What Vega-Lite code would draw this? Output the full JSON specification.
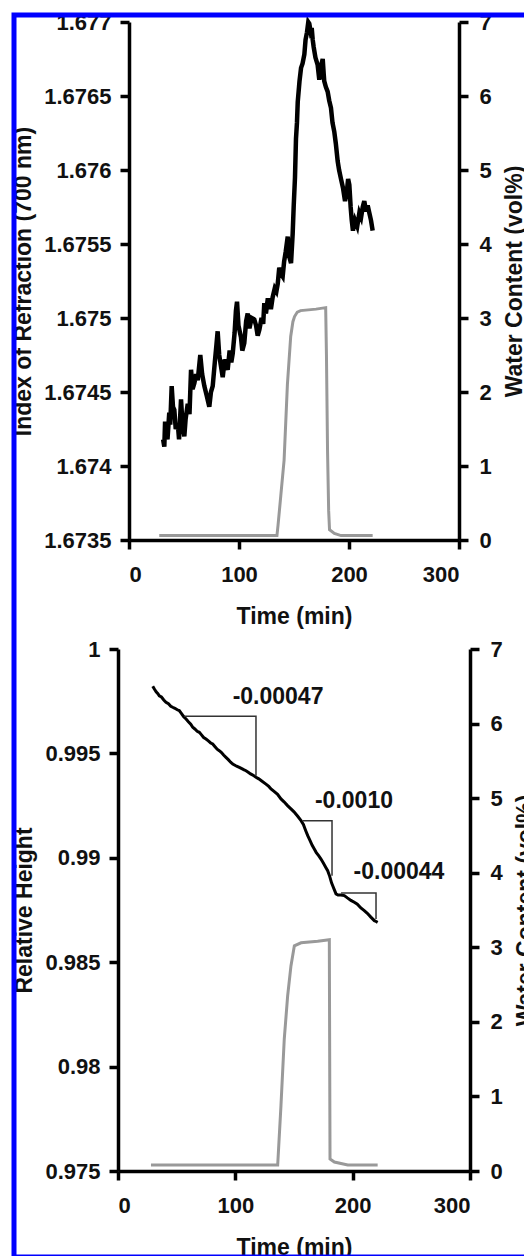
{
  "$schema": "https://vega.github.io/schema/vega-lite/v6.json",
  "background": "white",
  "padding": {"left": 11, "top": 11, "right": 0, "bottom": 0},
  "columns": 1,
  "align": "none",
  "spacing": -1247,
  "config": {
    "font": "Liberation Sans",
    "view": {"stroke": null},
    "axis": {
      "labelFont": "Liberation Sans", "labelFontWeight": "bold", "labelFontSize": 22, "labelColor": "#111",
      "titleFont": "Liberation Sans", "titleFontWeight": "bold", "titleFontSize": 23, "titleColor": "#111",
      "domainColor": "#000", "domainWidth": 3.5, "tickColor": "#000", "tickWidth": 3.5, "tickSize": 9,
      "grid": false, "labelPadding": 9, "titlePadding": 8
    },
    "axisX": {"labelPadding": 15, "titlePadding": 20}
  },
  "datasets": {
    "ri": [
      {"t":31.0,"n":1.67418},{"t":32.1,"n":1.67413},{"t":32.8,"n":1.67430},{"t":33.6,"n":1.67424},{"t":35.0,"n":1.67418},
      {"t":36.6,"n":1.67436},{"t":37.5,"n":1.67428},{"t":38.8,"n":1.67454},{"t":40.0,"n":1.67440},{"t":41.2,"n":1.67438},
      {"t":42.5,"n":1.67425},{"t":44.3,"n":1.67429},{"t":45.5,"n":1.67418},{"t":47.3,"n":1.67445},{"t":48.5,"n":1.67430},
      {"t":50.3,"n":1.67420},{"t":51.5,"n":1.67432},{"t":53.4,"n":1.67442},{"t":55.0,"n":1.67435},{"t":56.4,"n":1.67465},
      {"t":57.8,"n":1.67452},{"t":59.4,"n":1.67456},{"t":61.0,"n":1.67462},{"t":62.5,"n":1.67458},{"t":64.8,"n":1.67475},
      {"t":66.5,"n":1.67462},{"t":68.5,"n":1.67454},{"t":70.5,"n":1.67448},{"t":73.0,"n":1.67440},{"t":74.5,"n":1.67450},
      {"t":76.1,"n":1.67454},{"t":78.0,"n":1.67470},{"t":79.5,"n":1.67482},{"t":80.6,"n":1.67491},{"t":82.0,"n":1.67475},
      {"t":83.5,"n":1.67468},{"t":85.2,"n":1.67460},{"t":87.0,"n":1.67472},{"t":89.7,"n":1.67465},{"t":91.5,"n":1.67478},
      {"t":93.0,"n":1.67470},{"t":94.3,"n":1.67476},{"t":96.0,"n":1.67490},{"t":97.2,"n":1.67505},{"t":98.2,"n":1.67511},
      {"t":99.5,"n":1.67495},{"t":101.8,"n":1.67487},{"t":103.0,"n":1.67478},{"t":104.8,"n":1.67483},{"t":106.5,"n":1.67498},
      {"t":107.9,"n":1.67503},{"t":109.5,"n":1.67493},{"t":111.5,"n":1.67500},{"t":113.9,"n":1.67499},{"t":115.5,"n":1.67495},
      {"t":117.0,"n":1.67488},{"t":118.5,"n":1.67492},{"t":120.5,"n":1.67500},{"t":122.0,"n":1.67496},{"t":123.0,"n":1.67510},
      {"t":124.5,"n":1.67503},{"t":126.0,"n":1.67512},{"t":127.5,"n":1.67512},{"t":129.0,"n":1.67506},{"t":130.6,"n":1.67514},
      {"t":132.5,"n":1.67520},{"t":134.0,"n":1.67518},{"t":135.2,"n":1.67523},{"t":136.6,"n":1.67534},{"t":138.0,"n":1.67530},
      {"t":139.7,"n":1.67528},{"t":141.0,"n":1.67538},{"t":142.5,"n":1.67545},{"t":144.3,"n":1.67555},{"t":145.5,"n":1.67542},
      {"t":147.3,"n":1.67537},{"t":148.8,"n":1.67557},{"t":149.7,"n":1.67575},{"t":150.9,"n":1.67595},{"t":151.8,"n":1.67621},
      {"t":152.7,"n":1.67632},{"t":153.4,"n":1.67646},{"t":155.0,"n":1.67660},{"t":156.4,"n":1.67669},{"t":157.8,"n":1.67672},
      {"t":159.4,"n":1.67678},{"t":160.5,"n":1.67688},{"t":161.8,"n":1.67693},{"t":163.0,"n":1.67700},{"t":163.9,"n":1.67699},
      {"t":165.0,"n":1.67694},{"t":166.1,"n":1.67696},{"t":167.0,"n":1.67688},{"t":167.9,"n":1.67683},{"t":169.5,"n":1.67676},
      {"t":171.5,"n":1.67671},{"t":173.0,"n":1.67661},{"t":174.5,"n":1.67670},{"t":176.1,"n":1.67675},{"t":177.0,"n":1.67665},
      {"t":177.5,"n":1.67660},{"t":179.0,"n":1.67656},{"t":180.6,"n":1.67653},{"t":182.0,"n":1.67647},{"t":183.6,"n":1.67642},
      {"t":185.0,"n":1.67632},{"t":186.6,"n":1.67626},{"t":188.0,"n":1.67618},{"t":189.7,"n":1.67606},{"t":191.0,"n":1.67600},
      {"t":192.7,"n":1.67594},{"t":194.5,"n":1.67588},{"t":196.4,"n":1.67579},{"t":198.0,"n":1.67585},{"t":199.2,"n":1.67594},
      {"t":200.3,"n":1.67590},{"t":201.5,"n":1.67575},{"t":202.5,"n":1.67566},{"t":203.6,"n":1.67559},{"t":205.5,"n":1.67566},
      {"t":207.5,"n":1.67562},{"t":209.4,"n":1.67571},{"t":211.0,"n":1.67568},{"t":212.5,"n":1.67575},{"t":213.9,"n":1.67579},
      {"t":215.5,"n":1.67572},{"t":217.0,"n":1.67576},{"t":218.5,"n":1.67571},{"t":220.0,"n":1.67566},{"t":221.5,"n":1.67559}
    ],
    "wc1": [
      {"t":27.5,"w":0.06},{"t":134.5,"w":0.06},{"t":135.5,"w":0.2},{"t":138,"w":0.6},{"t":141,"w":1.08},{"t":144,"w":2.1},
      {"t":147,"w":2.75},{"t":149,"w":2.95},{"t":150.5,"w":3.02},{"t":153,"w":3.08},{"t":156,"w":3.1},{"t":170,"w":3.12},
      {"t":178.8,"w":3.14},{"t":179.5,"w":2.5},{"t":180.5,"w":1.2},{"t":181.5,"w":0.4},{"t":182.3,"w":0.14},{"t":186.7,"w":0.09},
      {"t":192.7,"w":0.06},{"t":221.5,"w":0.06}
    ],
    "rh": [
      {"t":29.6,"h":0.99822},{"t":31.0,"h":0.99808},{"t":32.5,"h":0.99795},{"t":34.0,"h":0.99786},{"t":35.2,"h":0.99776},
      {"t":37.0,"h":0.99770},{"t":39.0,"h":0.99756},{"t":40.9,"h":0.99745},{"t":43.0,"h":0.99738},{"t":45.0,"h":0.99726},
      {"t":46.6,"h":0.99721},{"t":48.5,"h":0.99716},{"t":50.5,"h":0.99709},{"t":52.2,"h":0.99705},{"t":54.0,"h":0.99692},
      {"t":56.0,"h":0.99676},{"t":58.0,"h":0.99665},{"t":60.0,"h":0.99652},{"t":62.0,"h":0.99640},{"t":63.7,"h":0.99625},
      {"t":65.5,"h":0.99617},{"t":67.5,"h":0.99606},{"t":69.3,"h":0.99601},{"t":71.0,"h":0.99590},{"t":73.0,"h":0.99576},
      {"t":75.0,"h":0.99569},{"t":77.0,"h":0.99560},{"t":79.0,"h":0.99550},{"t":80.7,"h":0.99545},{"t":82.5,"h":0.99533},
      {"t":84.5,"h":0.99520},{"t":86.3,"h":0.99513},{"t":88.0,"h":0.99505},{"t":90.0,"h":0.99492},{"t":92.0,"h":0.99481},
      {"t":94.0,"h":0.99470},{"t":96.0,"h":0.99458},{"t":97.8,"h":0.99449},{"t":100.0,"h":0.99442},{"t":101.5,"h":0.99438},
      {"t":103.4,"h":0.99433},{"t":105.5,"h":0.99427},{"t":107.5,"h":0.99421},{"t":109.1,"h":0.99417},{"t":111.0,"h":0.99410},
      {"t":113.0,"h":0.99402},{"t":115.5,"h":0.99394},{"t":117.6,"h":0.99386},{"t":120.0,"h":0.99378},{"t":122.5,"h":0.99368},
      {"t":126.1,"h":0.99353},{"t":128.5,"h":0.99342},{"t":130.4,"h":0.99330},{"t":133.0,"h":0.99318},{"t":136.0,"h":0.99304},
      {"t":138.9,"h":0.99282},{"t":141.5,"h":0.99268},{"t":144.5,"h":0.99250},{"t":147.4,"h":0.99234},{"t":150.0,"h":0.99220},
      {"t":153.0,"h":0.99200},{"t":156.0,"h":0.99178},{"t":158.0,"h":0.99160},{"t":160.0,"h":0.99130},{"t":161.7,"h":0.99106},
      {"t":163.5,"h":0.99085},{"t":165.5,"h":0.99060},{"t":167.3,"h":0.99042},{"t":169.0,"h":0.99025},{"t":171.0,"h":0.99010},
      {"t":173.0,"h":0.98994},{"t":175.0,"h":0.98975},{"t":177.0,"h":0.98955},{"t":178.7,"h":0.98938},{"t":180.5,"h":0.98910},
      {"t":182.0,"h":0.98880},{"t":183.0,"h":0.98866},{"t":184.5,"h":0.98845},{"t":185.8,"h":0.98827},{"t":187.5,"h":0.98822},
      {"t":190.0,"h":0.98822},{"t":192.9,"h":0.98819},{"t":195.5,"h":0.98808},{"t":198.5,"h":0.98796},{"t":201.4,"h":0.98787},
      {"t":204.0,"h":0.98778},{"t":207.0,"h":0.98760},{"t":209.9,"h":0.98747},{"t":212.5,"h":0.98734},{"t":215.5,"h":0.98716},
      {"t":218.5,"h":0.98699},{"t":220.0,"h":0.98695},{"t":221.3,"h":0.98691}
    ],
    "wc2": [
      {"t":28.1,"w":0.08},{"t":136.1,"w":0.08},{"t":138.9,"w":0.88},{"t":141.7,"w":1.77},{"t":144.6,"w":2.35},{"t":147.4,"w":2.75},
      {"t":150.3,"w":3.02},{"t":156,"w":3.06},{"t":170.2,"w":3.08},{"t":180.1,"w":3.1},{"t":180.7,"w":0.16},{"t":184.4,"w":0.12},
      {"t":195.8,"w":0.08},{"t":221.3,"w":0.08}
    ],
    "tri": [
      {"seg":"a","o":1,"t":56.5,"h":0.99678},{"seg":"a","o":2,"t":117.6,"h":0.99678},{"seg":"a","o":3,"t":117.6,"h":0.99393},
      {"seg":"b","o":1,"t":157.4,"h":0.99178},{"seg":"b","o":2,"t":182.4,"h":0.99178},{"seg":"b","o":3,"t":182.4,"h":0.98914},
      {"seg":"c","o":1,"t":190.1,"h":0.98831},{"seg":"c","o":2,"t":219.9,"h":0.98831},{"seg":"c","o":3,"t":219.9,"h":0.98707}
    ],
    "lab": [
      {"t":136.4,"h":0.99770,"label":"-0.00047"},
      {"t":201.1,"h":0.99272,"label":"-0.0010"},
      {"t":239.5,"h":0.98932,"label":"-0.00044"}
    ]
  },
  "concat": [
    {
      "columns": 2,
      "align": "none",
      "spacing": -3,
      "concat": [
        {
          "width": 1, "height": 1,
          "data": {"values": []},
          "mark": {"type": "rule"},
          "encoding": {}
        },
        {
          "columns": 1,
          "align": "none",
          "spacing": 10,
          "concat": [
            {
              "width": 330, "height": 518,
              "layer": [
                {
                  "data": {"name": "ri"},
                  "mark": {"type": "line", "color": "#000", "strokeWidth": 4.5},
                  "encoding": {
                    "x": {"field": "t", "type": "quantitative", "scale": {"domain": [0, 300]}, "axis": {"values": [0, 100, 200, 300], "title": "Time (min)"}},
                    "y": {"field": "n", "type": "quantitative", "scale": {"domain": [1.6735, 1.677], "zero": false},
                          "axis": {"values": [1.6735, 1.674, 1.6745, 1.675, 1.6755, 1.676, 1.6765, 1.677], "format": "~g", "title": "Index of Refraction (700 nm)"}}
                  }
                },
                {
                  "data": {"name": "wc1"},
                  "mark": {"type": "line", "color": "#999", "strokeWidth": 3},
                  "encoding": {
                    "x": {"field": "t", "type": "quantitative", "scale": {"domain": [0, 300]}, "axis": {"values": [0, 100, 200, 300], "title": "Time (min)"}},
                    "y": {"field": "w", "type": "quantitative", "scale": {"domain": [0, 7]},
                          "axis": {"orient": "right", "values": [0, 1, 2, 3, 4, 5, 6, 7], "title": "Water Content (vol%)", "titleAngle": 270, "titleBaseline": "top", "labelPadding": 11, "titlePadding": 12}}
                  }
                }
              ],
              "resolve": {"scale": {"y": "independent"}}
            },
            {
              "width": 341, "height": 522,
              "layer": [
                {
                  "layer": [
                    {
                      "data": {"name": "rh"},
                      "mark": {"type": "line", "color": "#000", "strokeWidth": 3}
                    },
                    {
                      "data": {"name": "tri"},
                      "mark": {"type": "line", "color": "#333", "strokeWidth": 1.5},
                      "encoding": {"detail": {"field": "seg"}, "order": {"field": "o"}}
                    },
                    {
                      "data": {"name": "lab"},
                      "mark": {"type": "text", "fontSize": 23, "fontWeight": "bold", "color": "#111", "baseline": "middle", "align": "center"},
                      "encoding": {"text": {"field": "label"}}
                    }
                  ],
                  "encoding": {
                    "x": {"field": "t", "type": "quantitative", "scale": {"domain": [0, 300], "range": [-11, 341]}, "axis": {"values": [0, 100, 200, 300], "title": "Time (min)"}},
                    "y": {"field": "h", "type": "quantitative", "scale": {"domain": [0.975, 1], "zero": false},
                          "axis": {"values": [0.975, 0.98, 0.985, 0.99, 0.995, 1], "format": "~g", "title": "Relative Height", "offset": 11}}
                  }
                },
                {
                  "data": {"name": "wc2"},
                  "mark": {"type": "line", "color": "#999", "strokeWidth": 3},
                  "encoding": {
                    "x": {"field": "t", "type": "quantitative", "scale": {"domain": [0, 300], "range": [-11, 341]}, "axis": {"values": [0, 100, 200, 300], "title": "Time (min)"}},
                    "y": {"field": "w", "type": "quantitative", "scale": {"domain": [0, 7]},
                          "axis": {"orient": "right", "values": [0, 1, 2, 3, 4, 5, 6, 7], "title": "Water Content (vol%)", "titleAngle": 270, "titleBaseline": "top", "labelPadding": 11, "titlePadding": 12}}
                  }
                }
              ],
              "resolve": {"scale": {"y": "independent"}}
            }
          ]
        }
      ]
    },
    {
      "width": 620, "height": 1242,
      "view": {"stroke": "#0000ff", "strokeWidth": 5, "fill": null},
      "data": {"values": []},
      "mark": {"type": "rule"},
      "encoding": {}
    }
  ]
}
